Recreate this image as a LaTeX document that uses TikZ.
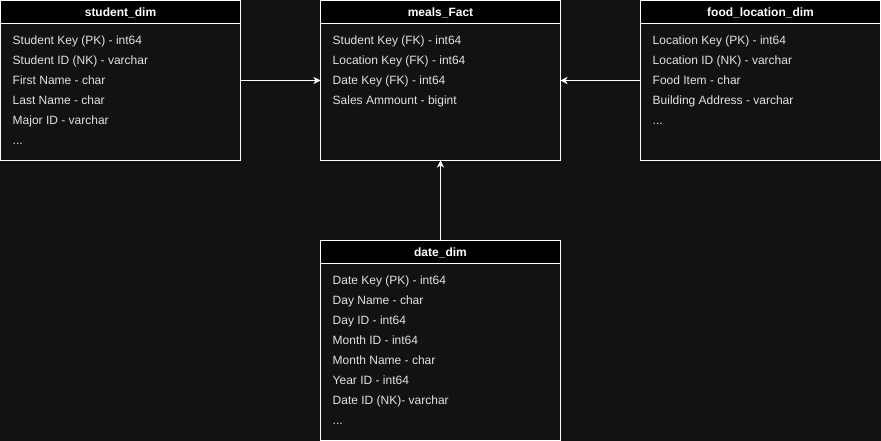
\documentclass[tikz,border=0pt]{standalone}
\usepackage{fontspec}
\setmainfont{Liberation Sans}
\usetikzlibrary{arrows.meta}
\definecolor{bg}{HTML}{121212}
\definecolor{txt}{HTML}{E2E2E2}
\begin{document}
\begin{tikzpicture}[x=1pt,y=-1pt,
  tablebox/.style={draw=white, fill=bg, line width=1pt, minimum width=240pt, minimum height=160pt, inner sep=0pt, outer sep=0pt, anchor=north west},
  hdr/.style={draw=white, fill=black, line width=1pt, minimum width=240pt, minimum height=23pt, inner sep=0pt, outer sep=0pt, anchor=north west, text=white, text height=9pt, text depth=0.4pt, font=\fontsize{12}{14}\selectfont\bfseries},
  row/.style={anchor=west, inner sep=0pt, text=txt, text height=9pt, text depth=0.4pt, font=\fontsize{12}{14}\selectfont},
  conn/.style={draw=white, line width=1pt, -{Stealth[length=7pt,width=7pt,inset=2pt]}}
]
\fill[bg] (0,0) rectangle (881,441);
\useasboundingbox (0,0) rectangle (881,441);

% student_dim
\node[tablebox] (stu) at (0.5,0.5) {};
\node[hdr] (stuh) at (stu.north west) {student\_dim};
\foreach [count=\i] \t in {Student Key (PK) - int64, Student ID (NK) - varchar, First Name - char, Last Name - char, Major ID - varchar}
  \node[row] (stur\i) at (12.5, 20+20*\i) {\t};
\node[row] (sturx) at (12.5, 140) {...};

% meals_Fact
\node[tablebox] (fact) at (320.5,0.5) {};
\node[hdr] (facth) at (fact.north west) {meals\_Fact};
\foreach [count=\i] \t in {Student Key (FK) - int64, Location Key (FK) - int64, Date Key (FK) - int64, Sales Ammount - bigint}
  \node[row] (factr\i) at (332.5, 20+20*\i) {\t};

% food_location_dim
\node[tablebox] (loc) at (640.5,0.5) {};
\node[hdr] (loch) at (loc.north west) {food\_location\_dim};
\foreach [count=\i] \t in {Location Key (PK) - int64, Location ID (NK) - varchar, Food Item - char, Building Address - varchar}
  \node[row] (locr\i) at (652.5, 20+20*\i) {\t};
\node[row] (locrx) at (652.5, 120) {...};

% date_dim
\node[tablebox, minimum height=200pt] (date) at (320.5,240.5) {};
\node[hdr] (dateh) at (date.north west) {date\_dim};
\foreach [count=\i] \t in {Date Key (PK) - int64, Day Name - char, Day ID - int64, Month ID - int64, Month Name - char, Year ID - int64, Date ID (NK)- varchar}
  \node[row] (dater\i) at (332.5, 260+20*\i) {\t};
\node[row] (daterx) at (332.5, 420) {...};

% connectors
\draw[conn] (stu.east) -- (fact.west);
\draw[conn] (loc.west) -- (fact.east);
\draw[conn] (date.north) -- (fact.south);
\end{tikzpicture}
\end{document}
